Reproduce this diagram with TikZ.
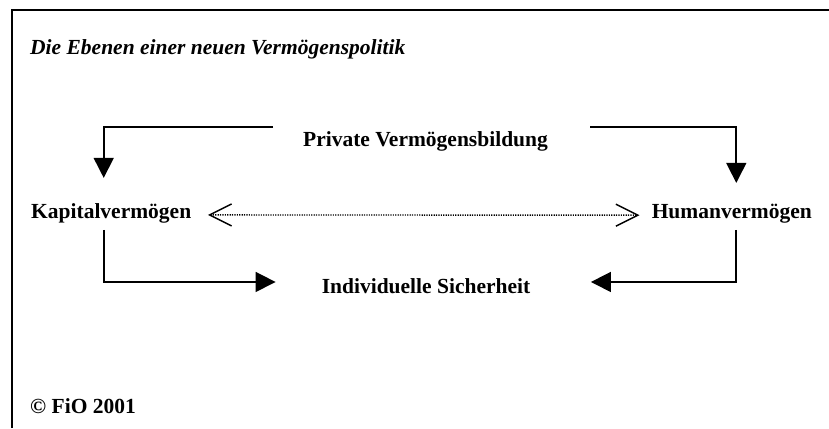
\documentclass[tikz,border=0pt]{standalone}
\usepackage{fontspec}
\setmainfont{Liberation Serif}
\usetikzlibrary{arrows.meta}

\begin{document}
\begin{tikzpicture}[x=1pt,y=-1pt,
            lbl/.style={inner sep=0pt, font=\fontsize{21.5}{26}\selectfont\bfseries},
            flow/.style={line width=1.6pt, -{Triangle[length=20pt,width=20pt]}},
            link/.style={line width=1.4pt, dash pattern=on 1.2pt off 1.2pt,
                {Straight Barb[length=22pt,width=22pt,line width=1.5pt]}-{Straight Barb[length=22pt,width=22pt,line width=1.5pt]}}]
            \useasboundingbox (0,0) rectangle (829,428);
            \draw [line width=2pt] (12,428) -- (12,10) -- (829,10);
            \node [lbl, anchor=base west] (title) at (30,55) {\itshape Die Ebenen einer neuen Vermögenspolitik};
            \node [lbl, anchor=base] (priv) at (425.5,146.7) {Private Vermögensbildung};
            \node [lbl, anchor=base west] (kap) at (31,218) {Kapitalvermögen};
            \node [lbl, anchor=base east] (hum) at (812,218) {Humanvermögen};
            \node [lbl, anchor=base] (indiv) at (426,293.3) {Individuelle Sicherheit};
            \node [lbl, anchor=base west] (copy) at (30,413) {© FiO 2001};
            \coordinate (pl) at (273,127);
            \coordinate (pr) at (590,127);
            \draw [flow, shorten >=25pt] (pl) -| ([xshift=-7.5pt]kap.north);
            \draw [flow, shorten >=20.5pt] (pr) -| ([xshift=4.5pt]hum.north);
            \draw [link, shorten <=16.5pt, shorten >=12pt] ([yshift=-2pt]kap.east) -- ([yshift=-2pt]hum.west);
            \draw [flow, shorten <=7pt, shorten >=46pt] ([xshift=-7.5pt]kap.south) |- ([yshift=4pt]indiv.west);
            \draw [flow, shorten <=7pt, shorten >=60.5pt] ([xshift=4.5pt]hum.south) |- ([yshift=4pt]indiv.east);
\end{tikzpicture}
\end{document}
